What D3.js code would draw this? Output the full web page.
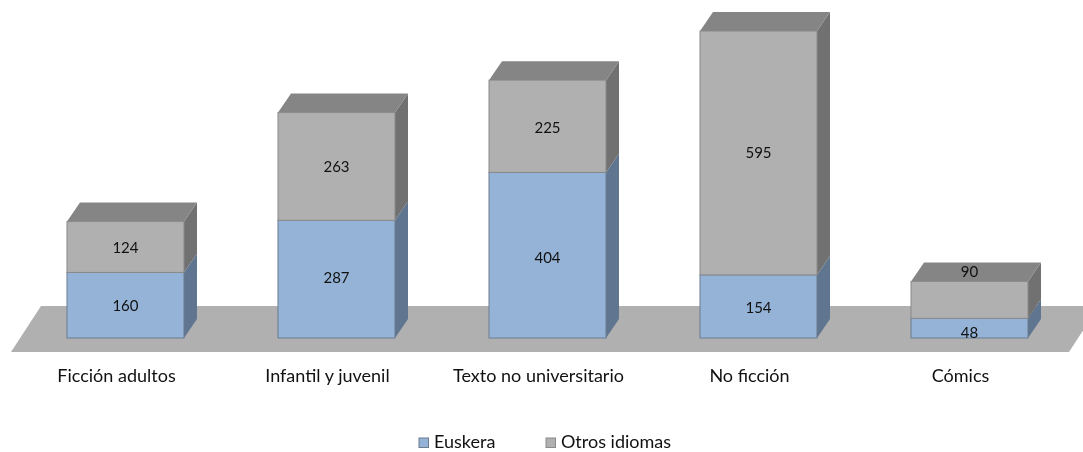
<!DOCTYPE html>
<html><head><meta charset="utf-8">
<script src="https://cdnjs.cloudflare.com/ajax/libs/d3/7.8.5/d3.min.js"></script>
<style>html,body{margin:0;background:#fff}svg{display:block;filter:blur(.3px)}text{font-family:Lato,"Open Sans",sans-serif;fill:#111}</style>
</head><body><svg id="c" width="1083" height="452"></svg>
<script>
const categories = ["Ficción adultos","Infantil y juvenil","Texto no universitario","No ficción","Cómics"];
const euskera = [160,287,404,154,48];
const otros = [124,263,225,595,90];
const seriesNames = ["Euskera","Otros idiomas"];

const W=1083,H=452,baseY=338,DX=13,DY=19,labelShift=-9;
const svg=d3.select("#c");
const x=d3.scaleBand().domain(categories).range([20,1075]).paddingInner(.4455).paddingOuter(.2227);
const y=d3.scaleLinear().domain([0,749]).range([baseY,31]);
const styles=[
 {front:"#95B3D7",side:"#5F7590",top:"#6d8099",stroke:"#6b7c8f"},
 {front:"#B0B0B0",side:"#717171",top:"#858585",stroke:"#8a8a8a"}
];
// floor
const floor=d3.path();
floor.moveTo(11,baseY+14);floor.lineTo(41,baseY-32);floor.lineTo(1099,baseY-32);floor.lineTo(1069,baseY+14);floor.closePath();
svg.append("path").attr("d",floor.toString()).attr("fill","#B0B0B0");

const stacked=d3.stack().keys([0,1]).value((d,k)=>d[k])(categories.map((c,i)=>[euskera[i],otros[i]]));
const poly=pts=>d3.line()(pts)+"Z";
stacked.forEach((s,k)=>{
  const st=styles[k];
  const g=svg.append("g").selectAll("g").data(s).join("g");
  g.append("path").attr("fill",st.side).attr("d",(d,i)=>{
    const r=x(categories[i])+x.bandwidth();
    return poly([[r,y(d[0])],[r+DX,y(d[0])-DY],[r+DX,y(d[1])-DY],[r,y(d[1])]]);
  });
  if(k===1) g.append("path").attr("fill",st.top).attr("d",(d,i)=>{
    const l=x(categories[i]),r=l+x.bandwidth(),t=y(d[1]);
    return poly([[l,t],[l+DX,t-DY],[r+DX,t-DY],[r,t]]);
  });
  g.append("rect").attr("x",(d,i)=>x(categories[i])).attr("y",d=>y(d[1]))
   .attr("width",x.bandwidth()).attr("height",d=>y(d[0])-y(d[1]))
   .attr("fill",st.front).attr("stroke",st.stroke).attr("stroke-width",1);
});
// data labels (label offsets as placed in the original, largest on the tiny Cómics segments)
const nudge=[[1,-1,3,1,5],[1,0,1,0,-28]];
stacked.forEach((s,k)=>{
  svg.append("g").selectAll("text").data(s).join("text")
   .attr("x",(d,i)=>x(categories[i])+x.bandwidth()/2)
   .attr("y",(d,i)=>(y(d[0])+y(d[1]))/2+nudge[k][i])
   .attr("dy","0.35em").attr("text-anchor","middle").attr("font-size",15)
   .text(d=>d[1]-d[0]);
});
// category axis
const axis=d3.axisBottom(x).tickSize(0).tickPadding(0);
const ag=svg.append("g").attr("transform",`translate(${labelShift},369)`).call(axis);
ag.select(".domain").remove();
ag.selectAll("text").attr("font-size",18).attr("dy","0.71em").style("font-family",'Lato,"Open Sans",sans-serif').style("fill","#111");
ag.attr("font-family",null).attr("font-size",null);
// legend
const legendX=[419,546];
const lg=svg.append("g").selectAll("g").data(seriesNames).join("g").attr("transform",(d,i)=>`translate(${legendX[i]},438)`);
lg.append("rect").attr("width",9.5).attr("height",9.5).attr("fill",(d,i)=>styles[i].front).attr("stroke",(d,i)=>styles[i].stroke);
lg.append("text").attr("x",15).attr("y",10).attr("font-size",18).text(d=>d);
</script></body></html>
